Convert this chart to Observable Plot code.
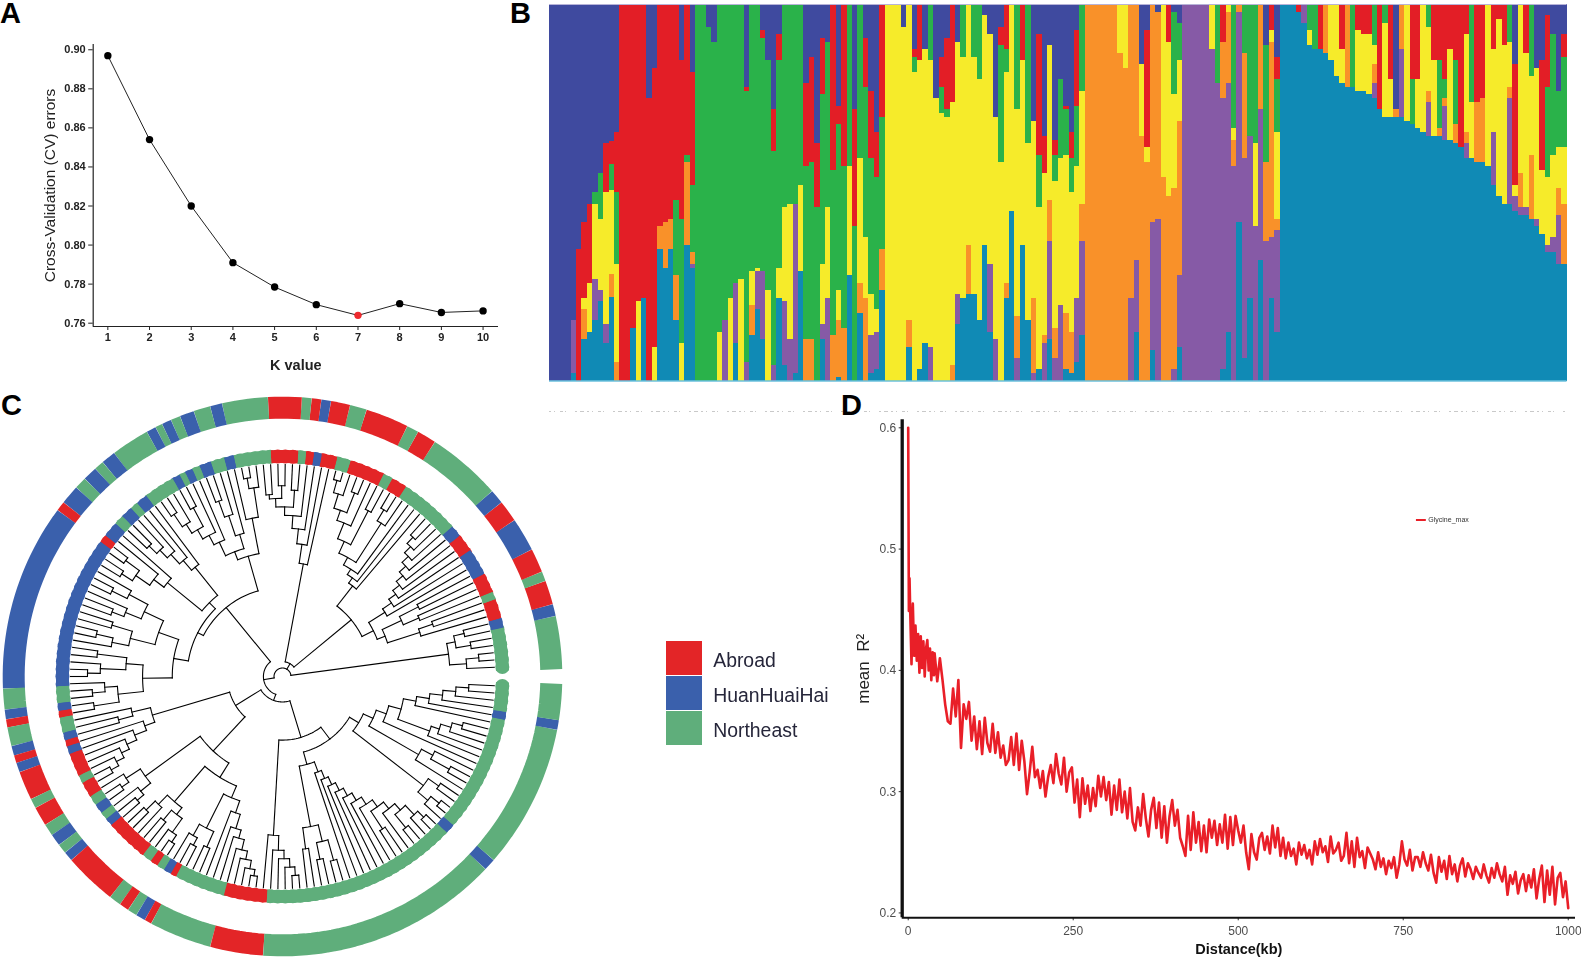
<!DOCTYPE html>
<html>
<head>
<meta charset="utf-8">
<script src="https://cdn.jsdelivr.net/npm/d3@7"></script>
<script src="https://cdn.jsdelivr.net/npm/@observablehq/plot@0.6"></script>
<style>
  html,body{margin:0;padding:0;background:#fff;overflow:hidden}
  #page{position:relative;width:1581px;height:957px;background:#fff;font-family:"Liberation Sans",Arial,sans-serif}
  #page svg{position:absolute;display:block;background:transparent;overflow:visible;filter:blur(.4px)}
  .letter{position:absolute;font:bold 29px/26px "Liberation Sans",Arial,sans-serif;color:#000}
</style>
</head>
<body>
<div id="page"></div>
<script>
const FONT = '"Liberation Sans",Arial,sans-serif';

/* ---------- A: cross-validation errors ---------- */
const kValues = [1,2,3,4,5,6,7,8,9,10];
const cvErrors = [.897,.854,.820,.791,.7785,.7695,.764,.770,.7655,.7663];
const cvTicks = [.76,.78,.80,.82,.84,.86,.88,.90];
const bestK = 7;

/* ---------- B: admixture, one string per accession (cluster letter + share) ---------- */
const clusterKeys = ["t","p","o","y","g","r","b"];
const clusterColors = ["#108ab5","#865aa6","#f99129","#f6eb2a","#2ab24a","#e31e26","#3f4a9f"];
const admixture = [
"b100","b100","b100","b100","b84 p14 t2","b65 r35","b58 r20 y3 o8 t11","b53 r21 y13 t13","b50 g3 y20 p11 t16","b45 g12 y19 p3 t21",
"b37 r13 y35 p5 t10","b36 r6 g7 y22 o6 t22","b34 r16 g19 y26 o5","r100","r100","r86 t14","r79 y21","r78 t22","b25 r75","b17 r74 y9",
"r59 o6 t35","r58 o12 t30","r57 o8 t35","r52 g20 o12 t16","b15 r42 g33 y10","r40 g2 o22 t36","b18 r30 g18 o3 p1 t30","g100","g100","b6 g94",
"b10 g90","g87 y13","g84 p16","g78 y22","g74 p16 t10","g73 y27","b22 r1 g72 p5","g71 y9 o8 t12","g70 y1 p10 t19","b7 r2 g62 p18 t11",
"b15 g61 y24","b28 r11 g57 p4","b8 r7 g55 y8 t22","g54 y25 p17 t4","g53 y36 p11","g53 p45 t2","g48 y23 t29","b21 r22 g46 o11","b14 r28 g47 o11","b37 r17 g46",
"b9 r15 g45 y16 p4 t11","b10 g44 y24 p22","r44 g44 o12","b27 r5 g44 y8 o15 t1","r43 g43 o14","g43 y29 t28","b28 r31 g41","g41 y33 o8 t18","b9 r13 g40 y16 o22","b23 r18 g36 y11 p10 t2",
"b34 r12 g35 y6 p10 t3","r30 g35 o11 t24","y100","y100","y100","b6 y94","y84 o7 t9","b12 r2 g4 y82","r15 y82 t3","b12 y78 t10",
"g15 y76 p9","b25 y75","b14 r8 g7 y71","b9 r19 g2 y70","r26 y70 o4","b10 y67 p8 t15","g14 y64 t22","y64 o13 t23","g14 y63 t23","g20 y64 t16",
"b3 y61 t36","b8 y61 p18 t13","b30 y59 p11","b6 r5 g31 y58","r12 g6 y56 o4 t22","y55 t45","g28 y55 o11 p6","r15 y49 t36","g37 y47 t16","b31 y47 o20 p2",
"b8 r32 g14 y43 t3","b35 r10 y43 o2 p10","b11 y41 o11 p26 t11","b36 r4 g7 y39 o8 p6","b20 g21 y39 p20","b27 r1 g12 y42 o15 t3","b34 r7 g9 y37 o11 t2","b7 r20 g16 y35 p17 t5","g23 y30 o10 p25 t12","o100",
"o100","o100","o100","o100","o100","y13 o87","y17 o83","o78 p22","o68 p19 t13","b16 y19 o65",
"b7 r31 y4 o58","o58 p34 t8","b2 o55 p43","y46 o54","r10 y41 o49","b2 g22 y25 o48 p3","b5 g10 y16 o41 p19 t9","p100","p100","p100",
"p100","p100","y12 p88","g21 p79","r10 o15 p72 t3","y2 o19 p66 t13","g33 y3 o7 p57","o2 p56 t42","g13 o28 p53 t6","g35 p43 t22",
"g37 y22 p41","o28 p40 t32","b11 g31 o21 p37","r7 y3 o52 p16 t22","b14 r6 g14 y23 o3 p27 t13","t100","t100","t100","r2 t98","p5 t95",
"g7 y4 t89","g12 t88","r12 t88","o13 t87","y15 t85","y19 t81","r12 y9 t79","o22 t78","g22 t78","r7 y16 t77",
"r8 y15 t77","r8 y16 t76","g11 y5 o5 p4 t75","r28 t72","g5 y25 t70","r20 y10 t70","b28 o2 t70","o12 p18 t70","y31 t69","r20 g12 t68",
"r20 y13 t67","y34 t66","g6 y17 o3 p9 t65","r15 y20 t65","r15 g18 o2 t65","r20 g5 o2 p9 t64","r12 y24 t64","r15 g17 o5 t63","r38 t62","r8 y26 o3 p4 t59",
"g26 y15 t59","r26 o16 t58","r25 o17 t58","y43 t57","r12 y22 p14 t52","r4 y47 t49","r11 y42 t47","g10 y12 o3 p28 t47","b16 r32 y3 p4 t45","y45 o9 p2 t44",
"r13 y41 p2 t44","g19 y21 o17 t43","b17 y40 p2 t41","b15 r29 y17 t39","b3 r19 g24 y18 p2 t34","b8 g32 y22 p4 t34","b23 g15 y11 o7 p13 t31","b8 r6 g24 y15 o16 t31"
];

/* ---------- C: circular tree ---------- */
const groupKeys = ["A","H","N"];
const groupNames = ["Abroad","HuanHuaiHai","Northeast"];
const groupColors = ["#e32527","#3a60ac","#5fae7b"];
/* ring: stops in degrees counter-clockwise from east, group of each stretch */
const ringStops = [1.5,12.5,15,20,22,27,34,38.5,41.5,57,61,63.5,72.5,76,80,82,84,86,93,102.5,105,108.5,111.5,113.5,115.5,117,119,127,130,132,135,137.5,141.5,143.5,182.5,186.8,188.8,190.5,194.4,196.4,198,200,206,208,212,214.5,217,219,221,232,234.5,236.5,238.5,240.5,242,255,266,316.5,319,349,351,358.5];
const ringGroups = ["N","H","A","N","A","H","A","H","N","A","N","A","N","A","H","A","N","A","N","H","N","H","N","H","N","H","N","H","N","H","N","H","A","H","N","H","A","N","H","A","H","A","N","A","N","H","N","H","A","N","A","N","H","A","N","A","N","H","N","H","N"];
/* clades: [node radius, ...children]; 0 is a tip; L() reads a ladder of node radii with one tip per rung */
const L = (radii,end=0) => radii.reduceRight((acc,r)=>[r,0,acc],end);
const cladeC1 = [.79,L([.87,.93]),[.83,L([.90]),L([.88])]];
const cladeC2a = [.48,[.52,L([.68,.75]),[.62,L([.70]),L([.72])]],L([.57,.62,.66,.70,.74,.78,.82,.86,.90])];
const cladeC2b = L([.54,.57,.60],[.64,L([.86,.92]),[.70,L([.88]),L([.78],[.83,L([.93]),L([.90,.96])])]]);
const cladeC3 = L([.54,.63,.70,.76],[.80,L([.88]),[.84,L([.90]),L([.86])]]);
const cladeC4 = [.59,[.76,L([.90,.95]),0],[.63,L([.70,.80,.88]),L([.70,.75],[.80,L([.90]),L([.85,.92])])]];
const cladeC4b = [.49,L([.66,.72,.78,.83,.88]),L([.70,.76],[.84,L([.92]),L([.90])])];
const cladeC5 = [.52,[.62,[.72,L([.82,.90]),L([.80,.86])],[.74,L([.84]),[.82,L([.90]),0]]],[.66,[.74,L([.88]),L([.86,.92])],[.78,L([.84,.90]),L([.90])]]];
const cladeC6 = [.64,L([.73,.80]),L([.69,.75,.80,.84,.88,.92])];
const cladeC7a1 = [.80,L([.88,.92]),L([.86,.90])];
const cladeC7a2 = [.78,[.84,L([.90]),0],[.82,L([.88]),L([.90,.94])]];
const cladeC7b = [.62,[.80,L([.86,.90]),L([.88])],L([.68,.75,.79,.84,.88,.92,.95])];
const cladeC8 = L([.75,.82,.86,.90,.94]);
const cladeC9 = [.43,[.72,L([.82]),[.80,L([.88]),L([.90])]],L([.48,.52,.56,.60,.64,.68,.72],[.76,L([.86]),L([.80],[.84,L([.92]),L([.90,.94])])])];
const cladeC10 = [.42,[.84,L([.90,.95]),L([.90])],[.47,L([.74],[.80,L([.90]),0]),L([.52],[.58,L([.74,.78,.83,.88]),L([.64,.70,.76,.82,.88])])]];
const treeRoot = [.04,cladeC1,[.07,[.42,cladeC2a,cladeC2b],cladeC3],[.09,[.42,cladeC4,[.45,cladeC4b,cladeC5]],[.12,[.26,cladeC6,[.48,cladeC7a1,[.56,cladeC7a2,cladeC7b]]],[.30,cladeC8,[.37,cladeC9,cladeC10]]]]];

/* ---------- D: LD decay ---------- */
const ldHeadKb = [0,1,2,3,5,7,9,11,13,15,17,19,21,23,25,27,29,31,33,35,37,39];
const ldHeadR2 = [.600,.449,.476,.450,.405,.455,.412,.437,.408,.430,.398,.428,.402,.424,.395,.418,.425,.400,.418,.392,.415,.396];
const ldStepKb = 4;
const ldBodyStartKb = 40;
const ldBodyR2 = [
.414,.391,.410,.392,.372,.358,.356,.385,.362,.392,.336,.372,.360,.374,.342,
.362,.335,.358,.331,.361,.340,.333,.356,.332,.349,.328,.338,.322,.326,.345,.322,.348,.318,.342,.325,.298,.316,.337,.312,.318,
.303,.317,.296,.312,.322,.307,.331,.315,.306,.328,.300,.316,.320,.291,.310,.279,.311,.290,.305,.284,.303,.288,.313,.296,.312,
.293,.308,.281,.305,.285,.310,.283,.300,.278,.303,.275,.268,.287,.272,.298,.278,.263,.285,.295,.270,.291,.262,.288,.258,.280,
.293,.272,.285,.262,.255,.247,.280,.252,.283,.258,.275,.251,.272,.250,.277,.262,.276,.256,.273,.258,.281,.253,.279,.256,.280,
.268,.258,.272,.250,.236,.265,.250,.244,.262,.266,.252,.263,.249,.272,.254,.270,.247,.262,.245,.258,.247,.253,.240,.258,.248,
.256,.245,.252,.240,.259,.248,.261,.250,.255,.242,.263,.249,.252,.258,.243,.247,.266,.241,.259,.238,.262,.246,.251,.237,.254,
.249,.244,.236,.250,.238,.245,.232,.243,.237,.246,.229,.240,.259,.244,.239,.252,.235,.246,.246,.238,.250,.241,.235,.248,.233,
.225,.246,.234,.243,.228,.247,.232,.240,.226,.239,.245,.230,.241,.236,.228,.238,.233,.229,.240,.231,.225,.237,.229,.241,.232,
.226,.238,.215,.231,.224,.234,.216,.227,.232,.218,.231,.221,.236,.212,.228,.239,.209,.235,.215,.238,.207,.229,.233,.213,.226,.204
];
const ldXTicks = [0,250,500,750,1000];
const ldYTicks = [.2,.3,.4,.5,.6];

/* ---------- helpers ---------- */
const page = document.getElementById("page");
function place(svg,left,top){svg.style.left=left+"px";svg.style.top=top+"px";page.appendChild(svg);}
function letter(t,left,top){const d=document.createElement("div");d.className="letter";d.textContent=t;d.style.left=left+"px";d.style.top=top+"px";page.appendChild(d);}
const polar=(deg,r)=>[r*Math.cos(deg*Math.PI/180),r*Math.sin(deg*Math.PI/180)];

/* ---------- A ---------- */
const cvRows = kValues.map((k,i)=>({k,e:cvErrors[i]}));
place(Plot.plot({
  width:520,height:380,marginLeft:92.7,marginRight:22,marginTop:44,marginBottom:54,
  style:{fontFamily:FONT,background:"transparent"},
  x:{domain:[.649,10.37]},y:{domain:[.7583,.9027]},
  color:{domain:[false,true],range:["#000","#ee2a2e"]},
  marks:[
    Plot.axisX({ticks:kValues,tickSize:4,tickPadding:3,label:null,fontSize:11,fontWeight:"bold",color:"#222"}),
    Plot.axisY({ticks:cvTicks,tickFormat:d3.format(".2f"),tickSize:4.5,tickPadding:3,label:null,fontSize:11,fontWeight:"bold",color:"#222"}),
    Plot.ruleX([.649],{stroke:"#222",strokeWidth:1.2}),
    Plot.ruleY([.7583],{stroke:"#222",strokeWidth:1.2}),
    Plot.line(cvRows,{x:"k",y:"e",stroke:"#222",strokeWidth:1}),
    Plot.dot(cvRows,{x:"k",y:"e",r:3.7,fill:d=>d.k===bestK,stroke:null}),
    Plot.text(["K value"],{frameAnchor:"bottom",dy:43,fontSize:14.5,fontWeight:"bold",fill:"#222"}),
    Plot.text(["Cross-Validation (CV) errors"],{frameAnchor:"left",rotate:-90,textAnchor:"middle",dx:-43,fontSize:15.5,fill:"#222"})
  ]
}),0,0);

/* ---------- B ---------- */
const admixRows = admixture.flatMap((s,col)=>s.split(" ").map(t=>({col,cluster:t[0],share:+t.slice(1)})));
place(Plot.plot({
  width:1017.5,height:407.5,marginLeft:0,marginRight:0,marginTop:0,marginBottom:31,
  style:{background:"transparent"},
  x:{type:"band",domain:d3.range(admixture.length),padding:0,round:false,axis:null},
  y:{domain:[0,1],axis:null},
  color:{domain:clusterKeys,range:clusterColors},
  marks:[
    Plot.barY(admixRows,{x:"col",y:"share",z:"cluster",fill:"cluster",offset:"normalize",order:clusterKeys,shapeRendering:"crispEdges"}),
    Plot.ruleY([1],{stroke:"#b7b3d8",strokeWidth:1}),
    Plot.ruleY([0],{stroke:"#6bc0dc",strokeWidth:1.5}),
    Plot.ruleY([-.081],{stroke:"#c9c9c9",strokeWidth:1,strokeDasharray:"2 3 1 5 3 2 1 9 2 3 4 3"})
  ]
}),549.3,3.5);

/* ---------- C ---------- */
const tipRows=[],branchRows=[];
let tipCount=0;(function count(n){if(n===0)tipCount++;else n.slice(1).forEach(count);})(treeRoot);
const tipStep=(ringStops[ringStops.length-1]-ringStops[0])/tipCount;
let tipIndex=0,branchId=0;
function groupAt(deg){const i=d3.bisectRight(ringStops,deg)-1;return ringGroups[Math.max(0,Math.min(i,ringGroups.length-1))];}
function pushPath(pts){const id=branchId++;pts.forEach(([x,y])=>branchRows.push({x,y,id}));}
function layout(node){
  if(node===0){const a=ringStops[0]+(tipIndex+.5)*tipStep;tipIndex++;const [x,y]=polar(a,1.038);tipRows.push({a,g:groupAt(a),x,y});return {a,r:1};}
  const r=node[0],kids=node.slice(1).map(layout);
  const a0=kids[0].a,a1=kids[kids.length-1].a,a=(a0+a1)/2;
  kids.forEach(k=>pushPath([polar(k.a,r),polar(k.a,k.r)]));
  const n=Math.max(1,Math.ceil((a1-a0)/2));
  pushPath(d3.range(n+1).map(i=>polar(a0+(a1-a0)*i/n,r)));
  return {a,r};
}
layout(treeRoot);
const ringAt=radius=>ringGroups.flatMap((g,i)=>{
  const a0=ringStops[i],a1=ringStops[i+1],n=Math.max(1,Math.ceil((a1-a0)/1.5));
  return d3.range(n+1).map(j=>{const [x,y]=polar(a0+(a1-a0)*j/n,radius);return {x,y,g,seg:i};});
});
const U=212,cx=282,cy=676,svgTop=390,svgW=572,svgH=567;
place(Plot.plot({
  width:svgW,height:svgH,margin:0,
  style:{background:"transparent"},
  x:{domain:[-cx/U,(svgW-cx)/U],axis:null},
  y:{domain:[(cy-svgTop)/U,(cy-svgTop-svgH)/U],range:[0,svgH],axis:null},
  color:{domain:groupKeys,range:groupColors},
  marks:[
    Plot.line(branchRows,{x:"x",y:"y",z:"id",stroke:"#000",strokeWidth:1.1,curve:"linear",strokeLinecap:"square"}),
    Plot.dot(tipRows,{x:"x",y:"y",r:7,fill:"g",stroke:null}),
    Plot.line(ringAt(1.038),{x:"x",y:"y",z:"seg",stroke:"g",strokeWidth:13,curve:"linear",strokeLinecap:"butt",strokeLinejoin:"round"}),
    Plot.line(ringAt(1.268),{x:"x",y:"y",z:"seg",stroke:"g",strokeWidth:22,curve:"linear",strokeLinecap:"butt",strokeLinejoin:"round"})
  ]
}),0,svgTop);

/* legend of C */
place(Plot.plot({
  width:190,height:107,margin:0,
  style:{fontFamily:FONT,background:"transparent"},
  x:{type:"band",domain:["swatch","label"],range:[0,73.4],padding:0,axis:null},
  y:{type:"band",domain:groupNames,padding:.03,axis:null},
  color:{domain:groupNames,range:groupColors},
  marks:[
    Plot.cell(groupNames,{x:()=>"swatch",y:d=>d,fill:d=>d}),
    Plot.text(groupNames,{x:()=>"swatch",y:d=>d,text:d=>d,textAnchor:"start",dx:28.7,dy:2,fontSize:19.4,fill:"#26263a"})
  ]
}),665,639);

/* ---------- D ---------- */
const ldRows=[...ldHeadKb.map((kb,i)=>({kb,r2:ldHeadR2[i]})),...ldBodyR2.map((r2,i)=>({kb:ldBodyStartKb+i*ldStepKb,r2}))];
place(Plot.plot({
  width:741,height:557,marginLeft:61.7,marginRight:6,marginTop:19.3,marginBottom:39.7,
  style:{fontFamily:FONT,background:"transparent"},
  x:{domain:[-9.1,1011]},y:{domain:[.196,.6066]},
  marks:[
    Plot.axisX({ticks:ldXTicks,tickFormat:d=>String(d),tickSize:3,tickPadding:6,label:null,fontSize:12,stroke:"#333",fill:"#4d4d4d"}),
    Plot.axisY({ticks:ldYTicks,tickFormat:d3.format(".1f"),tickSize:3,tickPadding:3,label:null,fontSize:12,stroke:"#333",fill:"#4d4d4d"}),
    Plot.ruleX([-9.1],{stroke:"#111",strokeWidth:3.3}),
    Plot.ruleY([.196],{stroke:"#111",strokeWidth:2}),
    Plot.line(ldRows,{x:"kb",y:"r2",stroke:"#e91f28",strokeWidth:2.6,curve:"linear"}),
    Plot.ruleY([.524],{x1:770,x2:785,stroke:"#e91f28",strokeWidth:2}),
    Plot.text(["Glycine_max"],{x:()=>788,y:()=>.524,textAnchor:"start",fontSize:7,fill:"#333"}),
    Plot.text(["Distance(kb)"],{frameAnchor:"bottom",dy:36,fontSize:14.5,fontWeight:"bold",fill:"#111"}),
    Plot.text(["mean\u00a0 R²"],{frameAnchor:"left",rotate:-90,textAnchor:"middle",dx:-39,fontSize:17,fill:"#222"})
  ]
}),840,400);

letter("A",0,0);letter("B",510,0);letter("C",1,392);letter("D",841,392);
</script>
</body>
</html>
